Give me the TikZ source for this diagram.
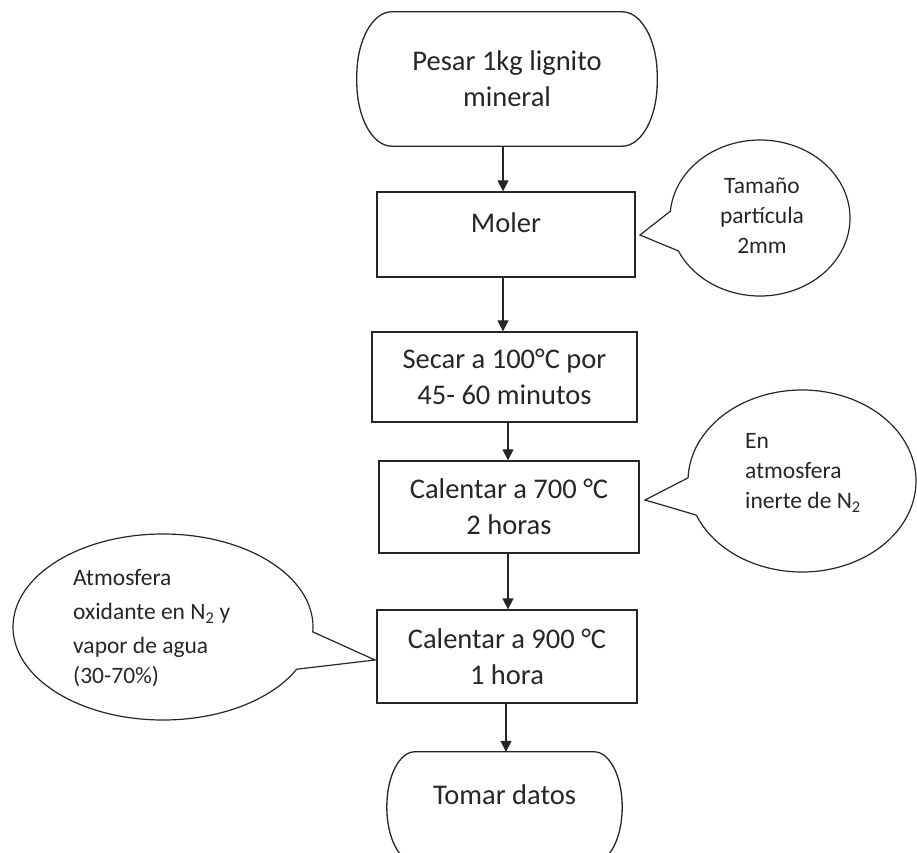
\documentclass[tikz,border=0pt]{standalone}
\usepackage{fontspec}
\setmainfont{Carlito}
\usetikzlibrary{calc,arrows.meta}
\begin{document}
\begin{tikzpicture}[x=1pt,y=1pt,
  line/.style={draw=black!85, line width=1.3pt},
  boxnode/.style={line, rectangle, inner sep=0pt, align=center, text=black!85, font=\fontsize{28.5}{36}\selectfont},
  ghost/.style={rectangle, inner sep=0pt},
  maintext/.style={align=center, inner sep=0pt, text=black!85, font=\fontsize{28.5}{36}\selectfont},
  calltext/.style={inner sep=0pt, text=black!85, font=\fontsize{23.5}{30}\selectfont},
  flow/.style={line, -{Triangle[width=11pt,length=11pt]}}
]
\useasboundingbox (0,0) rectangle (917,852);
\clip (0,0) rectangle (917,852);

% start terminal
\node[ghost, minimum width=300pt, minimum height=134pt] (t1) at (507,773) {};
\draw[line] ($(t1.north west)+(35,0)$) -- ($(t1.north east)+(-35,0)$)
  arc[start angle=90,end angle=0,x radius=35pt,y radius=64pt]
  -- ($(t1.south east)+(0,64)$)
  arc[start angle=0,end angle=-90,x radius=35pt,y radius=64pt]
  -- ($(t1.south west)+(35,0)$)
  arc[start angle=270,end angle=180,x radius=35pt,y radius=64pt]
  -- ($(t1.north west)+(0,-64)$)
  arc[start angle=180,end angle=90,x radius=35pt,y radius=64pt] -- cycle;
\node[maintext] (t1txt) at (t1.center) {Pesar 1kg lignito\\mineral};

% process boxes
\node[boxnode, minimum width=258pt, minimum height=85pt] (moler) at (506,617.5) {};
\node[maintext] (molertxt) at (506,629) {Moler};
\node[boxnode, minimum width=265pt, minimum height=90pt] (secar) at (504.5,475) {Secar a 100°C por\\45- 60 minutos};
\node[boxnode, minimum width=260pt, minimum height=92pt] (c700) at (509,345) {Calentar a 700 °C\\2 horas};
\node[boxnode, minimum width=260pt, minimum height=93pt] (c900) at (507,195.5) {Calentar a 900 °C\\1 hora};

% end terminal
\node[ghost, minimum width=235pt, minimum height=110pt] (t2) at (504.5,45) {};
\draw[line] ($(t2.north west)+(28,0)$) -- ($(t2.north east)+(-28,0)$)
  arc[start angle=90,end angle=0,x radius=28pt,y radius=55pt]
  -- ($(t2.south east)+(0,55)$)
  arc[start angle=0,end angle=-90,x radius=28pt,y radius=55pt]
  -- ($(t2.south west)+(28,0)$)
  arc[start angle=270,end angle=180,x radius=28pt,y radius=55pt]
  -- ($(t2.north west)+(0,-55)$)
  arc[start angle=180,end angle=90,x radius=28pt,y radius=55pt] -- cycle;
\node[maintext] (t2txt) at (504.5,57) {Tomar datos};

% arrows
\coordinate (xa) at (503,0);
\coordinate (xb) at (508,0);
\coordinate (xc) at (506,0);
\draw[flow] (t1.south -| xa) -- (moler.north -| xa);
\draw[flow] (moler.south -| xa) -- (secar.north -| xa);
\draw[flow] (secar.south -| xb) -- (c700.north -| xb);
\draw[flow] (c700.south -| xb) -- (c900.north -| xb);
\draw[flow] (c900.south -| xc) -- (t2.north -| xc);

% callout 1
\coordinate (e1) at (760,634);
\coordinate (tip1) at (640,617);
\draw[line, line width=1.2pt] (tip1) -- ($(e1)+({90*cos(205)},{78*sin(205)})$)
  arc[start angle=205,end angle=535,x radius=90pt,y radius=78pt] -- cycle;
\node[calltext, align=center] (c1txt) at (762,636) {Tamaño\\partícula\\2mm};

% callout 2
\coordinate (e2) at (802,371);
\coordinate (tip2) at (645,352);
\draw[line, line width=1.2pt] (tip2) -- ($(e2)+({114*cos(202)},{91*sin(202)})$)
  arc[start angle=202,end angle=538,x radius=114pt,y radius=91pt] -- cycle;
\node[calltext, align=left, anchor=west] (c2txt) at (745,379) {En\\atmosfera\\inerte de N\textsubscript{2}};

% callout 3
\coordinate (e3) at (163,225);
\coordinate (tip3) at (375,192);
\draw[line, line width=1.2pt] (tip3) -- ($(e3)+({150*cos(-3)},{93*sin(-3)})$)
  arc[start angle=-3,end angle=333,x radius=150pt,y radius=93pt] -- cycle;
\node[calltext, align=left, anchor=west] (c3txt) at (73,224) {Atmosfera\\[4pt]oxidante en N\textsubscript{2} y\\[4pt]vapor de agua\\(30-70\%)};
\end{tikzpicture}
\end{document}
